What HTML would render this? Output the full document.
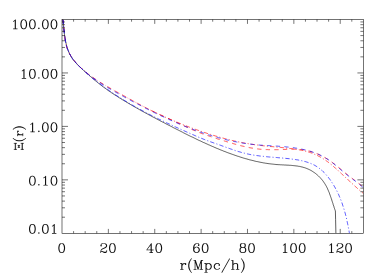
<!DOCTYPE html>
<html><head><meta charset="utf-8"><title>plot</title>
<style>html,body{margin:0;padding:0;background:#fff}svg{display:block}</style></head>
<body>
<svg width="382" height="273" viewBox="0 0 382 273">
<rect width="382" height="273" fill="#fff"/>
<defs><clipPath id="c"><rect x="62.0" y="19.5" width="301.4" height="213.8"/></clipPath><path id="g0" d="M9 -21.9 5.7 -20.8 5.3 -20.5 3.3 -17.5 2.2 -12.4 2.2 -8.6 3.1 -4 5.3 -0.5 5.7 -0.2 8.6 0.8 11.4 0.8 14.3 -0.2 14.7 -0.5 16.7 -3.5 17.8 -8.6 17.8 -12.4 16.9 -17 14.7 -20.5 14.3 -20.8 11.4 -21.8ZM9.2 -20.2 10.8 -20.2 12.4 -19.4 13.4 -18.4 14.3 -16.5 15.2 -11.9 15.2 -9.1 14.2 -4.2 13.4 -2.6 12.4 -1.6 10.8 -0.8 9.2 -0.8 7.6 -1.6 6.6 -2.6 5.7 -4.5 4.8 -9.1 4.8 -11.9 5.8 -16.8 6.6 -18.4 7.6 -19.4Z"/><path id="g1" d="M11.2 -21.8 10.4 -21.6 7.4 -18.6 5.7 -17.8 5.2 -17.2 5.2 -16.8 5.6 -16.3 6.3 -16.2 8.3 -17.2 9.1 -17.9 9.2 -17.8 9.2 -0.9 5.8 -0.8 5.2 -0.2 5.3 0.4 5.8 0.8 15.2 0.8 15.8 0.2 15.7 -0.4 15.2 -0.8 11.8 -0.9 11.8 -21.2Z"/><path id="g2" d="M4.7 -20.8 3.4 -19.6 2.2 -17.3 2.2 -15.8 2.4 -15.4 3.4 -14.4 3.8 -14.2 4.6 -14.4 5.6 -15.4 5.8 -15.8 5.6 -16.6 4.3 -17.8 4.6 -18.4 5.5 -19.3 8.2 -20.2 11.8 -20.2 13.4 -19.4 14.4 -18.4 15.2 -16.8 15.2 -15.2 14.3 -13.5 11.6 -11.7 5.7 -8.8 3.4 -6.6 2.2 -3.3 2.2 0.2 2.8 0.8 3.4 0.7 3.8 0.2 3.8 -1.6 4.4 -2.2 5.7 -2.2 10.8 0.8 15.2 0.8 15.6 0.6 16.6 -0.4 17.8 -2.6 17.8 -5.2 17.2 -5.8 16.6 -5.7 16.2 -5.2 16.2 -3.4 15.4 -2.6 13.8 -1.8 11.2 -1.8 6.3 -3.8 4.3 -3.8 4.2 -4.1 4.7 -5.5 6.6 -7.4 9.1 -8.6 13.3 -10.2 16.5 -12.3 17.8 -14.7 17.8 -17.3 16.8 -19.3 15.6 -20.6 12.4 -21.8 7.7 -21.8Z"/><path id="g3" d="M13.3 -21.8 12.7 -21.8 12.3 -21.5 1.2 -6.2 1.3 -5.6 1.8 -5.2 11.1 -5.2 11.2 -0.9 8.6 -0.7 8.2 -0.2 8.2 0.2 8.8 0.8 16.4 0.7 16.8 0.2 16.8 -0.2 16.4 -0.7 13.8 -0.9 13.8 -5.1 18.2 -5.2 18.8 -5.8 18.7 -6.4 18.2 -6.8 13.8 -6.9 13.8 -21.3ZM11.1 -17 11.2 -6.9 3.8 -6.8 3.7 -6.9Z"/><path id="g4" d="M13.3 -21.8 9.6 -21.8 6.4 -20.6 4.2 -18.3 3.2 -16.3 2.2 -12.4 2.2 -5.7 3.2 -2.7 5.7 -0.2 8.6 0.8 11.4 0.8 14.6 -0.4 16.8 -2.7 17.8 -5.7 17.8 -7.3 16.8 -10.3 14.3 -12.8 11.4 -13.8 9.7 -13.8 6.7 -12.8 4.9 -11.1 4.8 -11.2 4.8 -11.9 5.6 -15.2 6.6 -17.4 8.6 -19.4 10.2 -20.2 12.8 -20.2 14.2 -19.5 14.7 -18.8 13.4 -17.6 13.2 -17.2 13.4 -16.4 14.4 -15.4 15.2 -15.2 15.6 -15.4 16.6 -16.4 16.8 -16.8 16.8 -18.3 15.8 -20.3 15.3 -20.8ZM10.8 -12.2 12.4 -11.4 14.3 -9.5 15.1 -7.2 15.2 -6.2 14.3 -3.5 12.4 -1.6 10.8 -0.8 9.2 -0.8 7.6 -1.6 5.7 -3.5 4.9 -5.8 4.8 -6.8 5.7 -9.5 7.5 -11.3 9.8 -12.1Z"/><path id="g5" d="M8 -21.9 4.7 -20.8 4.2 -20.3 3.2 -18.3 3.2 -14.7 4.2 -12.7 4.7 -12.2 5.2 -12 4.4 -11.6 3.4 -10.6 2.2 -8.3 2.2 -3.7 3.4 -1.4 4.7 -0.2 7.6 0.8 12.4 0.8 15.6 -0.4 16.6 -1.4 17.8 -3.7 17.8 -8.3 16.6 -10.6 15.6 -11.6 14.8 -12 15.3 -12.2 15.8 -12.7 16.8 -14.7 16.8 -18.3 15.8 -20.3 15.3 -20.8 12.4 -21.8ZM8.2 -11.2 11.8 -11.2 13.4 -10.4 14.4 -9.4 15.2 -7.8 15.2 -4.2 14.4 -2.6 13.4 -1.6 11.8 -0.8 8.2 -0.8 6.6 -1.6 5.6 -2.6 4.8 -4.2 4.8 -7.8 5.6 -9.4 6.6 -10.4ZM6.5 -19.2 6.8 -19.5 8.2 -20.2 11.8 -20.2 13.2 -19.5 13.5 -19.2 14.2 -17.8 14.2 -15.2 13.5 -13.8 13.2 -13.5 11.8 -12.8 8.2 -12.8 6.8 -13.5 6.5 -13.8 5.8 -15.2 5.8 -17.8Z"/><path id="g7" d="M4.7 -2.8 3.4 -1.6 3.2 -0.8 3.4 -0.4 4.4 0.6 5.2 0.8 5.6 0.6 6.6 -0.4 6.8 -1.2 6.6 -1.6 5.3 -2.8Z"/><path id="g8" d="M1.8 -14.8 1.2 -14.2 1.2 -13.8 1.6 -13.3 4.2 -13.1 4.2 -0.9 1.8 -0.8 1.3 -0.4 1.2 0.2 1.8 0.8 9.2 0.8 9.8 0.2 9.8 -0.2 9.4 -0.7 6.8 -0.9 6.8 -7.8 7.6 -10.3 9.6 -12.4 11.2 -13.2 12.8 -13.2 12.9 -13.1 12.2 -12.2 12.2 -11.8 12.4 -11.4 13.4 -10.4 14.2 -10.2 14.6 -10.4 15.6 -11.4 15.8 -11.8 15.8 -13.2 15.6 -13.6 14.6 -14.6 14.2 -14.8 10.7 -14.8 8.4 -13.6 6.9 -12.1 6.8 -14.3 6.3 -14.8Z"/><path id="g9" d="M10.8 -25.8 10.4 -25.6 8.2 -23.4 6.3 -20.5 4.2 -16.3 3.2 -11.4 3.2 -6.6 4.2 -1.7 6.3 2.5 8.2 5.4 10.4 7.6 11.2 7.8 11.7 7.4 11.8 6.8 11.6 6.4 9.6 4.4 7.8 0.8 6.8 -2.1 5.8 -7.1 5.8 -10.9 6.8 -15.9 7.8 -18.8 9.6 -22.4 11.6 -24.4 11.8 -24.8 11.7 -25.4 11.2 -25.8Z"/><path id="g10" d="M1.6 -21.7 1.2 -21.2 1.2 -20.8 1.6 -20.3 4.2 -20.1 4.2 -0.9 1.8 -0.8 1.2 -0.2 1.3 0.4 1.8 0.8 8.2 0.8 8.8 0.2 8.7 -0.4 8.2 -0.8 5.8 -0.9 5.9 -15.6 11.2 0.3 11.7 0.8 12.3 0.8 12.8 0.3 18.1 -15.6 18.2 -0.9 15.8 -0.8 15.3 -0.4 15.2 0.2 15.8 0.8 23.4 0.7 23.8 0.2 23.8 -0.2 23.4 -0.7 20.8 -0.9 20.8 -20.1 23.2 -20.2 23.8 -20.8 23.7 -21.4 23.2 -21.8 19 -21.9 18.3 -21.5 12.5 -4.3 6.8 -21.3 6.3 -21.8 5 -21.9Z"/><path id="g11" d="M1.8 -14.8 1.2 -14.2 1.2 -13.8 1.6 -13.3 4.2 -13.1 4.2 6.1 1.8 6.2 1.3 6.6 1.2 7.2 1.8 7.8 9.2 7.8 9.8 7.2 9.8 6.8 9.4 6.3 6.8 6.1 6.8 -0.8 6.9 -0.9 7.7 -0.2 9.7 0.8 12.4 0.8 15.3 -0.2 17.8 -2.7 18.8 -5.7 18.8 -8.3 17.8 -11.3 15.3 -13.8 12.4 -14.8 9.7 -14.8 7.7 -13.8 6.9 -13.1 6.8 -14.3 6.3 -14.8ZM10.2 -13.2 11.8 -13.2 13.4 -12.4 15.3 -10.5 16.2 -7.8 16.2 -6.2 15.3 -3.5 13.4 -1.6 11.8 -0.8 10.2 -0.8 8.6 -1.6 6.8 -3.4 6.8 -10.6 8.6 -12.4Z"/><path id="g12" d="M8.6 -14.8 5.7 -13.8 3.4 -11.6 2.2 -8.3 2.2 -5.7 3.2 -2.7 5.4 -0.4 8.6 0.8 11.3 0.8 14.6 -0.4 16.6 -2.4 16.8 -2.8 16.7 -3.4 16.2 -3.8 15.8 -3.8 15.4 -3.6 13.5 -1.7 10.8 -0.8 9.2 -0.8 7.6 -1.6 5.7 -3.5 4.8 -6.2 4.8 -7.8 5.6 -10.3 7.6 -12.4 9.2 -13.2 11.8 -13.2 13.4 -12.4 14.3 -11.5 13.4 -10.6 13.2 -9.8 13.4 -9.4 14.4 -8.4 15.2 -8.2 15.6 -8.4 16.6 -9.4 16.8 -9.8 16.8 -11.2 16.6 -11.6 14.6 -13.6 12.3 -14.8Z"/><path id="g13" d="M20.4 -25.7 19.6 -25.7 18.9 -24.8 1.3 6.5 1.2 7.2 1.6 7.7 2.4 7.7 3.1 6.8 20.7 -24.5 20.8 -25.2Z"/><path id="g14" d="M1.6 -21.7 1.2 -21.2 1.2 -20.8 1.6 -20.3 4.2 -20.1 4.2 -0.9 1.8 -0.8 1.2 -0.2 1.3 0.4 1.8 0.8 9.2 0.8 9.7 0.4 9.8 -0.2 9.2 -0.8 6.8 -0.9 6.8 -10.6 8.7 -12.4 11.2 -13.2 12.8 -13.2 14.2 -12.5 14.5 -12.2 15.2 -10.8 15.2 -0.9 12.8 -0.8 12.2 -0.2 12.3 0.4 12.8 0.8 20.4 0.7 20.8 0.2 20.8 -0.2 20.4 -0.7 17.8 -0.9 17.8 -11.3 16.8 -13.3 16.3 -13.8 13.4 -14.8 10.7 -14.8 7.7 -13.8 6.9 -13.1 6.8 -21.3 6.3 -21.8Z"/><path id="g15" d="M2.8 -25.8 2.3 -25.4 2.2 -24.8 2.4 -24.4 4.4 -22.4 6.2 -18.8 7.2 -15.9 8.2 -10.9 8.2 -7.1 7.2 -2.1 6.2 0.8 4.4 4.4 2.4 6.4 2.2 6.8 2.3 7.4 2.8 7.8 3.2 7.8 3.6 7.6 5.8 5.4 7.7 2.5 9.8 -1.7 10.8 -6.6 10.8 -11.4 9.8 -16.3 7.7 -20.5 5.8 -23.4 3.6 -25.6Z"/><path id="xi" d="M-7 -20.2H7M-7 -19.4H7M-7 -22.6V-17M7 -22.6V-17M-2 -12.2H2M-2 -11.4H2M-2.2 -13.8V-9.8M2.2 -13.8V-9.8M-7 -4.3H7M-7 -3.5H7M-7 -6.7V-1.1M7 -6.7V-1.1" fill="none" stroke="#111" stroke-width="1.55" stroke-linecap="round"/></defs>
<g clip-path="url(#c)" fill="none" stroke-width="0.66">
<path d="M62.9 19.5 63.0 20.4 63.1 21.3 63.2 22.2 63.2 23.1 63.3 24.0 63.4 24.9 63.5 25.7 63.6 26.6 63.7 27.5 63.8 28.4 63.9 29.3 64.0 30.2 64.1 31.1 64.2 32.0 64.3 32.9 64.4 33.8 64.5 34.7 64.6 35.5 64.8 36.4 64.9 37.3 65.0 38.2 65.2 39.1 65.3 40.0 65.5 40.9 65.7 41.8 65.9 42.7 66.1 43.5 66.3 44.4 66.5 45.3 66.7 46.2 67.0 47.0 67.2 47.9 67.5 48.7 67.8 49.6 68.1 50.4 68.4 51.3 68.8 52.1 69.2 52.9 69.5 53.7 69.9 54.5 70.4 55.3 70.8 56.1 71.2 56.8 71.7 57.6 72.2 58.3 72.7 59.1 73.3 59.8 73.8 60.5 74.4 61.2 75.0 61.8 75.5 62.5 76.1 63.2 76.8 63.8 77.4 64.5 78.0 65.1 78.7 65.7 79.3 66.4 80.0 67.0 80.6 67.6 81.3 68.2 81.9 68.8 82.6 69.4 83.3 70.0 83.9 70.7 84.6 71.3 85.3 71.9 85.9 72.5 86.6 73.1 87.3 73.7 88.0 74.3 88.6 74.9 89.3 75.5 90.0 76.0 90.6 76.6 91.3 77.2 92.0 77.8 92.7 78.4 93.4 79.0 94.0 79.6 94.7 80.1 95.4 80.7 96.1 81.3 96.8 81.8 97.5 82.4 98.2 83.0 98.9 83.5 99.6 84.1 100.3 84.6 101.0 85.2 101.7 85.7 102.4 86.3 103.1 86.8 103.9 87.3 104.6 87.9 105.3 88.4 106.0 88.9 106.8 89.4 107.5 90.0 108.2 90.5 109.0 91.0 109.7 91.5 110.5 92.0 111.2 92.5 111.9 93.0 112.7 93.5 113.4 94.0 114.2 94.5 115.0 95.0 115.7 95.5 116.5 95.9 117.2 96.4 118.0 96.9 118.7 97.4 119.5 97.9 120.3 98.3 121.0 98.8 121.8 99.3 122.6 99.8 123.3 100.2 124.1 100.7 124.9 101.2 125.7 101.6 126.4 102.1 127.2 102.5 128.0 103.0 128.7 103.5 129.5 103.9 130.3 104.4 131.1 104.8 131.8 105.3 132.6 105.7 133.4 106.2 134.2 106.6 135.0 107.1 135.7 107.5 136.5 107.9 137.3 108.4 138.1 108.8 138.9 109.3 139.6 109.7 140.4 110.1 141.2 110.6 142.0 111.0 142.8 111.4 143.6 111.9 144.3 112.3 145.1 112.7 145.9 113.2 146.7 113.6 147.5 114.0 148.3 114.5 149.1 114.9 149.8 115.3 150.6 115.7 151.4 116.2 152.2 116.6 153.0 117.0 153.8 117.4 154.6 117.8 155.4 118.3 156.2 118.7 157.0 119.1 157.7 119.5 158.5 119.9 159.3 120.3 160.1 120.8 160.9 121.2 161.7 121.6 162.5 122.0 163.3 122.4 164.1 122.8 164.9 123.2 165.7 123.7 166.5 124.1 167.3 124.5 168.1 124.9 168.9 125.3 169.7 125.7 170.5 126.1 171.3 126.5 172.1 126.9 172.9 127.4 173.7 127.8 174.5 128.2 175.3 128.6 176.1 129.0 176.9 129.4 177.7 129.8 178.5 130.2 179.3 130.6 180.1 131.0 180.9 131.4 181.7 131.8 182.5 132.2 183.3 132.7 184.1 133.1 184.9 133.5 185.7 133.9 186.5 134.3 187.3 134.7 188.1 135.1 188.9 135.5 189.7 135.9 190.5 136.3 191.4 136.7 192.2 137.0 193.0 137.4 193.8 137.8 194.6 138.2 195.4 138.6 196.2 139.0 197.0 139.4 197.8 139.8 198.6 140.2 199.5 140.6 200.3 140.9 201.1 141.3 201.9 141.7 202.7 142.1 203.5 142.5 204.4 142.8 205.2 143.2 206.0 143.6 206.8 143.9 207.6 144.3 208.4 144.7 209.3 145.0 210.1 145.4 210.9 145.8 211.7 146.1 212.6 146.5 213.4 146.8 214.2 147.2 215.0 147.6 215.9 147.9 216.7 148.3 217.5 148.6 218.3 148.9 219.2 149.3 220.0 149.6 220.8 150.0 221.7 150.3 222.5 150.6 223.3 151.0 224.2 151.3 225.0 151.6 225.8 151.9 226.7 152.3 227.5 152.6 228.3 152.9 229.2 153.2 230.0 153.5 230.9 153.8 231.7 154.1 232.5 154.4 233.4 154.7 234.2 155.0 235.1 155.3 235.9 155.6 236.8 155.9 237.6 156.2 238.5 156.4 239.3 156.7 240.2 157.0 241.0 157.3 241.9 157.5 242.7 157.8 243.6 158.1 244.4 158.3 245.3 158.6 246.2 158.8 247.0 159.0 247.9 159.3 248.7 159.5 249.6 159.8 250.5 160.0 251.3 160.2 252.2 160.4 253.1 160.6 253.9 160.8 254.8 161.1 255.7 161.3 256.6 161.5 257.4 161.6 258.3 161.8 259.2 162.0 260.1 162.2 260.9 162.4 261.8 162.5 262.7 162.7 263.6 162.9 264.5 163.0 265.4 163.2 266.2 163.3 267.1 163.4 268.0 163.6 268.9 163.7 269.8 163.8 270.7 163.9 271.6 164.0 272.5 164.1 273.4 164.2 274.3 164.3 275.2 164.4 276.1 164.5 277.0 164.6 277.9 164.6 278.8 164.7 279.7 164.7 280.6 164.8 281.5 164.8 282.4 164.9 283.4 164.9 284.3 165.0 285.2 165.0 286.1 165.1 287.0 165.1 287.9 165.2 288.8 165.2 289.7 165.3 290.6 165.3 291.5 165.4 292.4 165.5 293.3 165.6 294.2 165.7 295.1 165.8 296.0 165.9 296.9 166.0 297.8 166.1 298.6 166.3 299.5 166.4 300.4 166.6 301.2 166.8 302.1 167.0 302.9 167.2 303.8 167.5 304.6 167.7 305.5 168.0 306.3 168.3 307.1 168.6 307.9 169.0 308.7 169.3 309.5 169.7 310.3 170.1 311.1 170.5 311.9 171.0 312.7 171.5 313.4 172.0 314.2 172.5 314.9 173.0 315.6 173.5 316.3 174.1 317.0 174.7 317.7 175.3 318.4 175.9 319.0 176.5 319.7 177.2 320.3 177.8 320.9 178.5 321.5 179.2 322.1 179.9 322.7 180.6 323.2 181.3 323.7 182.0 324.2 182.8 324.7 183.5 325.2 184.3 325.6 185.1 326.1 185.8 326.5 186.6 326.9 187.4 327.3 188.2 327.7 189.0 328.0 189.9 328.4 190.7 328.7 191.5 329.1 192.3 329.4 193.2 329.7 194.0 330.0 194.9 330.3 195.7 330.6 196.6 330.9 197.4 331.2 198.3 331.5 199.1 331.8 200.0 332.0 200.9 332.3 201.7 332.6 202.6 332.9 203.4 333.1 204.3 333.4 205.1 333.7 206.0 334.0 206.8 334.2 207.7 334.5 208.5 334.8 209.4 335.1 210.2 335.4 211.0 335.6 219.7 335.9 233.3" stroke="#000" stroke-width="0.64"/>
<path d="M62.8 19.6 63.0 20.5 63.1 21.3 63.2 22.2 63.3 23.1 63.4 24.0 63.5 24.9 63.6 25.8 63.7 26.7 63.8 27.7 63.9 28.6 64.0 29.5 64.1 30.4 64.2 31.4 64.3 32.3 64.3 33.2 64.4 34.2 64.6 35.1 64.7 36.0 64.8 37.0 64.9 37.9 65.0 38.9 65.2 39.8 65.3 40.7 65.5 41.6 65.7 42.6 65.9 43.5 66.1 44.4 66.3 45.3 66.6 46.2 66.8 47.1 67.1 47.9 67.4 48.8 67.8 49.7 68.1 50.5 68.5 51.3 68.9 52.2 69.3 53.0 69.7 53.8 70.1 54.6 70.6 55.4 71.0 56.2 71.5 56.9 72.0 57.7 72.5 58.4 73.1 59.2 73.6 59.9 74.2 60.6 74.7 61.3 75.3 62.0 75.9 62.7 76.5 63.4 77.1 64.1 77.8 64.8 78.4 65.5 79.1 66.1 79.7 66.8 80.4 67.4 81.1 68.0 81.8 68.7 82.4 69.3 83.1 69.9 83.9 70.5 84.6 71.1 85.3 71.7 86.0 72.3 86.7 72.9 87.5 73.5 88.2 74.0 88.9 74.6 89.7 75.1 90.4 75.7 91.2 76.2 91.9 76.8 92.7 77.3 93.5 77.8 94.2 78.4 95.0 78.9 95.8 79.4 96.5 79.9 97.3 80.4 98.1 80.9 98.9 81.4 99.6 81.9 100.4 82.4 101.2 82.9 102.0 83.4 102.8 83.8 103.6 84.3 104.4 84.8 105.2 85.3 106.0 85.7 106.8 86.2 107.6 86.7 108.4 87.1 109.2 87.6 110.0 88.1 110.8 88.5 111.6 89.0 112.4 89.4 113.2 89.9 114.0 90.3 114.8 90.8 115.6 91.2 116.4 91.7 117.2 92.1 118.0 92.6 118.8 93.0 119.6 93.5 120.4 93.9 121.2 94.4 122.0 94.8 122.9 95.3 123.7 95.7 124.5 96.2 125.3 96.6 126.1 97.1 126.9 97.5 127.7 98.0 128.5 98.4 129.3 98.9 130.1 99.3 130.9 99.8 131.8 100.2 132.6 100.7 133.4 101.1 134.2 101.6 135.0 102.0 135.8 102.5 136.6 102.9 137.4 103.3 138.3 103.8 139.1 104.2 139.9 104.7 140.7 105.1 141.5 105.5 142.3 105.9 143.2 106.4 144.0 106.8 144.8 107.2 145.6 107.7 146.4 108.1 147.3 108.5 148.1 108.9 148.9 109.3 149.7 109.7 150.5 110.1" stroke="#f00" stroke-dasharray="4.300 2.150 1.075 2.150" stroke-dashoffset="0.6" stroke-opacity="0.35"/>
<path d="M150.5 110.1 150.6 110.2 151.4 110.6 152.2 111.0 153.1 111.4 153.9 111.8 154.7 112.2 155.5 112.6 156.4 113.0 157.2 113.4 158.0 113.8 158.9 114.2 159.7 114.6 160.6 115.0 161.4 115.4 162.2 115.7 163.1 116.1 163.9 116.5 164.7 116.9 165.6 117.3 166.4 117.7 167.3 118.0 168.1 118.4 169.0 118.8 169.8 119.1 170.7 119.5 171.5 119.9 172.4 120.2 173.2 120.6 174.1 121.0 174.9 121.3 175.8 121.7 176.6 122.0 177.5 122.4 178.3 122.8 179.2 123.1 180.0 123.5 180.9 123.8 181.7 124.1 182.6 124.5 183.5 124.8 184.3 125.2 185.2 125.5 186.0 125.8 186.9 126.2 187.8 126.5 188.6 126.8 189.5 127.2 190.4 127.5 191.2 127.8 192.1 128.1 193.0 128.5 193.8 128.8 194.7 129.1 195.6 129.4 196.4 129.7 197.3 130.0 198.2 130.3 199.1 130.6 199.9 130.9 200.8 131.2 201.7 131.5 202.6 131.8 203.4 132.1 204.3 132.4 205.2 132.7 206.1 133.0 207.0 133.3 207.8 133.6 208.7 133.9 209.6 134.2 210.5 134.4 211.4 134.7 212.3 135.0 213.1 135.3 214.0 135.5 214.9 135.8 215.8 136.1 216.7 136.3 217.6 136.6 218.5 136.8 219.4 137.1 220.2 137.3 221.1 137.6 222.0 137.8 222.9 138.1 223.8 138.3 224.7 138.6 225.6 138.8 226.5 139.0 227.4 139.2 228.3 139.5 229.2 139.7 230.1 139.9 231.0 140.1 231.9 140.4 232.8 140.6 233.7 140.8 234.6 141.0 235.5 141.2 236.4 141.4 237.3 141.6 238.2 141.8 239.1 142.0 240.0 142.1 240.9 142.3 241.8 142.5 242.7 142.7 243.6 142.9 244.5 143.0 245.5 143.2 246.4 143.4 247.3 143.5 248.2 143.7 249.1 143.8 250.0 144.0 250.9 144.1 251.8 144.3 252.7 144.4 253.6 144.5 254.6 144.7 255.5 144.8 256.4 144.9 257.3 145.0 258.2 145.1 259.1 145.3 260.0 145.4 261.0 145.5 261.9 145.6 262.8 145.7 263.7 145.8 264.6 145.9 265.5 146.0 266.5 146.1 267.4 146.2 268.3 146.3 269.2 146.4 270.1 146.5 271.1 146.6 272.0 146.6 272.9 146.7 273.8 146.8 274.7 146.9 275.7 147.0 276.6 147.1 277.5 147.2 278.4 147.3 279.4 147.4 280.3 147.4 281.2 147.5 282.1 147.6 283.1 147.7 284.0 147.8 284.9 147.9 285.8 148.0 286.7 148.1 287.7 148.2 288.6 148.3 289.5 148.4 290.5 148.5 291.4 148.6 292.3 148.7 293.2 148.9 294.1 149.0 295.1 149.1 296.0 149.3 296.9 149.4 297.8 149.6 298.7 149.7 299.6 149.9 300.5 150.1 301.5 150.2 302.4 150.4 303.3 150.6 304.2 150.8 305.1 151.1 305.9 151.3 306.8 151.5 307.7 151.8 308.6 152.1 309.5 152.3 310.3 152.6 311.2 152.9 312.1 153.2 312.9 153.6 313.8 153.9 314.6 154.3 315.5 154.7 316.3 155.0 317.1 155.4 318.0 155.8 318.8 156.3 319.6 156.7 320.4 157.1 321.2 157.6 322.0 158.1 322.8 158.5 323.6 159.0 324.4 159.5 325.1 160.0 325.9 160.5 326.7 161.1 327.4 161.6 328.2 162.2 328.9 162.7 329.6 163.3 330.4 163.9 331.1 164.4 331.8 165.0 332.5 165.6 333.2 166.2 333.9 166.8 334.6 167.4 335.3 168.1 336.0 168.7 336.7 169.3 337.4 169.9 338.1 170.5 338.7 171.2 339.4 171.8 340.1 172.4 340.8 173.0 341.5 173.7 342.1 174.3 342.8 174.9 343.5 175.6 344.2 176.2 344.8 176.8 345.5 177.4 346.2 178.1 346.9 178.7 347.6 179.3 348.2 180.0 348.9 180.6 349.6 181.2 350.3 181.8 350.9 182.5 351.6 183.1 352.3 183.7 353.0 184.3 353.7 185.0 354.3 185.6 355.0 186.2 355.7 186.8 356.4 187.4 357.1 188.1 357.8 188.7 358.5 189.3 359.2 189.9 359.9 190.5 360.6 191.1 361.3 191.7 362.0 192.3 362.7 192.9 363.4 193.5" stroke="#f00" stroke-dasharray="4.300 2.150 1.075 2.150" stroke-dashoffset="0"/>
<path d="M62.8 19.6 63.0 20.4 63.1 21.3 63.2 22.2 63.3 23.1 63.4 24.0 63.5 24.9 63.6 25.8 63.7 26.7 63.8 27.7 63.9 28.6 64.0 29.5 64.1 30.4 64.2 31.3 64.3 32.2 64.4 33.1 64.5 34.1 64.6 35.0 64.7 35.9 64.8 36.8 64.9 37.8 65.1 38.7 65.2 39.6 65.4 40.5 65.5 41.5 65.7 42.4 65.9 43.3 66.1 44.2 66.3 45.1 66.5 46.0 66.8 46.9 67.0 47.8 67.3 48.7 67.6 49.5 68.0 50.4 68.3 51.2 68.7 52.0 69.1 52.8 69.5 53.6 70.0 54.4 70.4 55.2 70.9 56.0 71.4 56.8 71.9 57.5 72.4 58.3 72.9 59.0 73.5 59.7 74.0 60.4 74.6 61.2 75.2 61.9 75.8 62.6 76.4 63.2 77.0 63.9 77.6 64.6 78.3 65.2 78.9 65.9 79.6 66.5 80.2 67.2 80.9 67.8 81.6 68.4 82.3 69.1 83.0 69.7 83.7 70.3 84.4 70.9 85.1 71.5 85.8 72.1 86.5 72.6 87.2 73.2 87.9 73.8 88.6 74.3 89.4 74.9 90.1 75.4 90.9 76.0 91.6 76.5 92.3 77.1 93.1 77.6 93.8 78.1 94.6 78.7 95.4 79.2 96.1 79.7 96.9 80.2 97.6 80.7 98.4 81.2 99.2 81.7 100.0 82.2 100.7 82.7 101.5 83.2 102.3 83.6 103.1 84.1 103.9 84.6 104.7 85.1 105.5 85.5 106.3 86.0 107.1 86.5 107.9 86.9 108.7 87.4 109.5 87.9 110.3 88.3 111.1 88.8 111.9 89.2 112.7 89.7 113.5 90.1 114.3 90.6 115.1 91.0 115.9 91.5 116.7 91.9 117.5 92.4 118.3 92.8 119.1 93.2 119.9 93.7 120.7 94.1 121.6 94.6 122.4 95.0 123.2 95.4 124.0 95.9 124.8 96.3 125.6 96.8 126.4 97.2 127.2 97.7 128.0 98.1 128.8 98.5 129.6 99.0 130.4 99.4 131.2 99.9 132.0 100.3 132.8 100.8 133.6 101.2 134.4 101.6 135.2 102.1 136.0 102.5 136.9 103.0 137.7 103.4 138.5 103.8 139.3 104.3 140.1 104.7 140.9 105.1 141.7 105.6 142.5 106.0 143.3 106.4 144.1 106.9 144.9 107.3 145.7 107.7 146.6 108.1 147.4 108.5 148.2 109.0 149.0 109.4 149.8 109.8 150.7 110.2 151.5 110.6 152.3 111.0 153.1 111.4 154.0 111.8 154.8 112.2 155.6 112.6 156.5 113.0 157.3 113.4 158.1 113.8 159.0 114.1 159.8 114.5 160.6 114.9 161.5 115.3 162.3 115.7 163.1 116.1 164.0 116.5 164.8 116.9 165.6 117.2 166.5 117.6 167.3 118.0 168.2 118.4 169.0 118.8 169.8 119.2 170.7 119.6 171.5 119.9 172.3 120.3 173.2 120.7 174.0 121.1 174.8 121.5 175.7 121.9 176.5 122.3 177.3 122.7 178.2 123.1 179.0 123.5 179.8 123.9 180.6 124.3 181.5 124.7 182.3 125.1 183.1 125.5 184.0 125.8 184.8 126.2 185.6 126.6 186.5 127.0 187.3 127.4 188.1 127.8 189.0 128.2 189.8 128.5 190.6 128.9 191.5 129.3 192.3 129.7 193.2 130.0 194.0 130.4 194.8 130.7 195.7 131.1 196.5 131.5 197.4 131.8 198.2 132.1 199.1 132.5 199.9 132.8 200.8 133.1 201.7 133.5 202.5 133.8 203.4 134.1 204.2 134.4 205.1 134.7 206.0 135.0 206.8 135.3 207.7 135.6 208.6 135.9 209.4 136.2 210.3 136.5 211.2 136.8 212.1 137.1 212.9 137.4 213.8 137.7 214.7 138.0 215.6 138.2 216.4 138.5 217.3 138.8 218.2 139.1 219.1 139.3 220.0 139.6 220.8 139.9 221.7 140.2 222.6 140.4 223.5 140.7 224.4 141.0 225.3 141.2 226.1 141.5 227.0 141.8 227.9 142.0 228.8 142.3 229.7 142.6 230.6 142.8 231.4 143.1 232.3 143.3 233.2 143.6 234.1 143.9 235.0 144.1 235.9 144.4 236.8 144.6 237.6 144.8 238.5 145.1 239.4 145.3 240.3 145.6 241.2 145.8 242.1 146.0 243.0 146.2 243.9 146.4 244.8 146.6 245.7 146.8 246.6 147.0 247.5 147.2 248.3 147.4 249.2 147.6 250.1 147.8 251.0 147.9 251.9 148.1 252.9 148.2 253.8 148.4 254.7 148.5 255.6 148.6 256.5 148.8 257.4 148.9 258.3 149.0 259.2 149.1 260.1 149.2 261.0 149.3 262.0 149.3 262.9 149.4 263.8 149.5 264.7 149.5 265.6 149.6 266.5 149.6 267.5 149.6 268.4 149.7 269.3 149.7 270.2 149.7 271.1 149.7 272.1 149.7 273.0 149.8 273.9 149.7 274.8 149.7 275.8 149.7 276.7 149.7 277.6 149.7 278.5 149.7 279.5 149.6 280.4 149.6 281.3 149.6 282.2 149.5 283.2 149.5 284.1 149.4 285.0 149.4 285.9 149.4 286.8 149.3 287.8 149.3 288.7 149.3 289.6 149.2 290.5 149.2 291.5 149.2 292.4 149.2 293.3 149.2 294.2 149.2 295.1 149.2 296.0 149.2 297.0 149.3 297.9 149.3 298.8 149.4 299.7 149.5 300.6 149.5 301.5 149.6 302.4 149.8 303.3 149.9 304.2 150.0 305.1 150.2 306.0 150.4 306.9 150.6 307.8 150.8 308.7 151.0 309.6 151.2 310.5 151.4 311.4 151.7 312.2 152.0 313.1 152.3 314.0 152.5 314.9 152.9 315.7 153.2 316.6 153.5 317.4 153.9 318.3 154.2 319.1 154.6 319.9 155.0 320.8 155.4 321.6 155.8 322.4 156.2 323.2 156.6 324.0 157.1 324.8 157.5 325.6 158.0 326.4 158.5 327.2 158.9 328.0 159.4 328.8 159.9 329.5 160.5 330.3 161.0 331.0 161.5 331.8 162.1 332.5 162.6 333.2 163.2 334.0 163.7 334.7 164.3 335.4 164.8 336.1 165.4 336.9 166.0 337.6 166.6 338.3 167.2 339.0 167.8 339.7 168.3 340.4 168.9 341.1 169.5 341.8 170.1 342.5 170.7 343.2 171.3 344.0 171.9 344.7 172.5 345.4 173.1 346.1 173.6 346.8 174.2 347.5 174.8 348.2 175.4 349.0 175.9 349.7 176.5 350.4 177.1 351.1 177.6 351.9 178.2 352.6 178.7 353.3 179.3 354.1 179.8 354.8 180.4 355.5 181.0 356.3 181.5 357.0 182.1 357.7 182.6 358.4 183.2 359.1 183.8 359.9 184.3 360.6 184.9 361.3 185.5 362.0 186.1 362.7 186.7 363.4 187.3" stroke="#f00" stroke-dasharray="4.300 4.300" stroke-dashoffset="0.4"/>
<path d="M62.8 19.6 63.0 20.5 63.1 21.4 63.2 22.4 63.3 23.3 63.4 24.3 63.5 25.3 63.6 26.2 63.7 27.2 63.8 28.2 63.9 29.2 64.0 30.1 64.1 31.1 64.2 32.1 64.3 33.1 64.4 34.1 64.5 35.0 64.7 36.0 64.8 37.0 64.9 38.0 65.1 38.9 65.3 39.9 65.4 40.9 65.6 41.8 65.8 42.8 66.0 43.8 66.3 44.7 66.5 45.6 66.8 46.6 67.1 47.5 67.4 48.4 67.7 49.3 68.1 50.2 68.5 51.1 68.8 52.0 69.3 52.9 69.7 53.8 70.1 54.6 70.6 55.5 71.1 56.3 71.6 57.1 72.1 58.0 72.6 58.8 73.2 59.6 73.8 60.3 74.4 61.1 75.0 61.9 75.6 62.6 76.3 63.3 76.9 64.1 77.6 64.8 78.3 65.5 79.0 66.2 79.7 66.8 80.4 67.5 81.1 68.2 81.8 68.8 82.5 69.5 83.3 70.2 84.0 70.8 84.7 71.5 85.5 72.1 86.2 72.8 86.9 73.4 87.7 74.0 88.4 74.7 89.2 75.3 89.9 75.9 90.7 76.6 91.4 77.2 92.2 77.8 92.9 78.4 93.7 79.0 94.5 79.6 95.2 80.2 96.0 80.8 96.8 81.4 97.5 82.0 98.3 82.6 99.1 83.2 99.9 83.8 100.7 84.4 101.4 85.0 102.2 85.6 103.0 86.1 103.8 86.7 104.6 87.3 105.4 87.9 106.2 88.4 107.0 89.0 107.8 89.6 108.6 90.1 109.4 90.7 110.2 91.2 111.0 91.8 111.8 92.3 112.6 92.9 113.4 93.4 114.2 93.9 115.0 94.5 115.8 95.0 116.7 95.6 117.5 96.1 118.3 96.6 119.1 97.1 120.0 97.7 120.8 98.2 121.6 98.7 122.4 99.2 123.3 99.7 124.1 100.2 124.9 100.7 125.8 101.2 126.6 101.7 127.4 102.2 128.3 102.7 129.1 103.2 130.0 103.7 130.8 104.2 131.7 104.7 132.5 105.2 133.3 105.7 134.2 106.2 135.0 106.6 135.9 107.1 136.7 107.6 137.6 108.1 138.5 108.5 139.3 109.0 140.2 109.5 141.0 109.9 141.9 110.4 142.7 110.9 143.6 111.3 144.5 111.8 145.3 112.2 146.2 112.7 147.1 113.1 147.9 113.6 148.8 114.0 149.7 114.5 150.5 114.9 151.4 115.4 152.3 115.8 153.1 116.3 154.0 116.7 154.9 117.1 155.8 117.6 156.6 118.0 157.5 118.4 158.4 118.9 159.3 119.3 160.2 119.7 161.0 120.1 161.9 120.6 162.8 121.0 163.7 121.4 164.6 121.8 165.4 122.2 166.3 122.7 167.2 123.1 168.1 123.5 169.0 123.9 169.9 124.3 170.7 124.7 171.6 125.1 172.5 125.6 173.4 126.0 174.3 126.4 175.2 126.8 176.1 127.2 177.0 127.6 177.9 128.0 178.7 128.4 179.6 128.8 180.5 129.2 181.4 129.6 182.3 130.0 183.2 130.4 184.1 130.8 185.0 131.2 185.9 131.6 186.8 132.0 187.7 132.4 188.6 132.8 189.5 133.2 190.4 133.6 191.2 134.0 192.1 134.3 193.0 134.7 193.9 135.1 194.8 135.5 195.7 135.9 196.6 136.3 197.5 136.7 198.4 137.1 199.3 137.4 200.2 137.8 201.1 138.2 202.0 138.5 202.9 138.9 203.8 139.3 204.7 139.6 205.6 140.0 206.5 140.3 207.5 140.7 208.4 141.0 209.3 141.3 210.2 141.7 211.1 142.0 212.0 142.3 212.9 142.6 213.9 143.0 214.8 143.3 215.7 143.6 216.6 143.9 217.5 144.2 218.4 144.6 219.4 144.9 220.3 145.2 221.2 145.5 222.1 145.9 223.0 146.2 224.0 146.5 224.9 146.9 225.8 147.2 226.7 147.5 227.7 147.9 228.6 148.2 229.5 148.5 230.5 148.9 231.4 149.2 232.3 149.5 233.2 149.8 234.2 150.2 235.1 150.5 236.0 150.8 237.0 151.1 237.9 151.4 238.8 151.7 239.8 151.9 240.7 152.2 241.7 152.5 242.6 152.7 243.5 153.0 244.5 153.2 245.4 153.5 246.4 153.7 247.3 153.9 248.3 154.1 249.2 154.3 250.2 154.5 251.1 154.7 252.1 154.8 253.1 155.0 254.0 155.2 255.0 155.3 255.9 155.4 256.9 155.6 257.9 155.7 258.8 155.8 259.8 156.0 260.7 156.1 261.7 156.2 262.7 156.3 263.6 156.4 264.6 156.5 265.6 156.6 266.6 156.7 267.5 156.8 268.5 156.9 269.5 157.0 270.4 157.0 271.4 157.1 272.4 157.2 273.4 157.3 274.3 157.4 275.3 157.4 276.3 157.5 277.3 157.6 278.2 157.7 279.2 157.8 280.2 157.8 281.2 157.9 282.1 158.0 283.1 158.1 284.1 158.2 285.1 158.3 286.0 158.4 287.0 158.5 288.0 158.6 289.0 158.7 290.0 158.8 290.9 158.9 291.9 159.1 292.9 159.2 293.9 159.3 294.8 159.5 295.8 159.6 296.8 159.8 297.8 159.9 298.7 160.1 299.7 160.3 300.6 160.5 301.6 160.7 302.6 160.9 303.5 161.1 304.4 161.4 305.4 161.6 306.3 161.9 307.2 162.2 308.1 162.5 309.1 162.8 310.0 163.2 310.8 163.5 311.7 163.9 312.6 164.3 313.5 164.7 314.3 165.1 315.2 165.6 316.0 166.1 316.8 166.6 317.6 167.1 318.4 167.6 319.2 168.2 319.9 168.8 320.7 169.4 321.4 170.0 322.2 170.7 322.9 171.4 323.6 172.0 324.3 172.7 325.0 173.5 325.6 174.2 326.3 174.9 326.9 175.7 327.6 176.4 328.2 177.2 328.8 178.0 329.4 178.8 330.0 179.6 330.6 180.4 331.1 181.2 331.7 182.1 332.2 182.9 332.8 183.7 333.3 184.6 333.8 185.4 334.3 186.3 334.8 187.1 335.3 188.0 335.7 188.8 336.2 189.7 336.7 190.6 337.1 191.4 337.5 192.3 337.9 193.2 338.4 194.1 338.8 194.9 339.1 195.8 339.5 196.7 339.9 197.6 340.3 198.5 340.6 199.4 341.0 200.3 341.3 201.2 341.7 202.1 342.0 203.0 342.3 203.9 342.6 204.9 342.9 205.8 343.2 206.7 343.5 207.6 343.8 208.5 344.1 209.5 344.4 210.4 344.6 211.3 344.9 212.3 345.2 213.2 345.4 214.2 345.7 215.1 345.9 216.0 346.1 217.0 346.4 217.9 346.6 218.9 346.8 219.8 347.0 220.8 347.2 221.8 347.4 222.7 347.6 223.7 347.8 224.6 348.0 225.6 348.2 226.6 348.4 227.5 348.6 228.5 348.8 229.5 349.0 230.4 349.1 231.4 349.3 232.4 349.5 233.3" stroke="#00f" stroke-dasharray="4.300 2.150 1.075 2.150" stroke-dashoffset="0"/>
<path d="M62.9 19.5 63.0 20.4 63.1 21.3 63.2 22.2 63.3 23.2 63.4 24.1 63.5 25.0 63.5 25.9 63.6 26.8 63.7 27.7 63.8 28.6 63.9 29.5 64.1 30.4 64.2 31.3 64.3 32.2 64.4 33.1 64.5 34.1 64.6 35.0 64.7 35.9 64.9 36.8 65.0 37.7 65.1 38.6 65.3 39.6 65.4 40.5 65.6 41.4 65.7 42.3 65.9 43.3 66.1 44.2 66.3 45.1 66.5 46.0 66.8 46.9 67.0 47.8 67.3 48.6 67.6 49.5 68.0 50.3 68.3 51.2 68.7 52.0 69.1 52.8 69.5 53.6 69.9 54.4 70.4 55.2 70.8 56.0 71.3 56.7 71.8 57.5 72.3 58.2 72.9 59.0 73.4 59.7 74.0 60.4 74.6 61.1 75.1 61.8 75.7 62.5 76.3 63.2 77.0 63.9 77.6 64.6 78.2 65.3 78.9 65.9 79.5 66.6 80.2 67.2 80.8 67.8 81.5 68.5 82.2 69.1 82.9 69.7 83.6 70.3 84.3 70.9 85.0 71.5 85.7 72.1 86.4 72.7 87.1 73.3 87.8 73.9 88.5 74.5 89.2 75.0 89.9 75.6 90.7 76.2 91.4 76.7 92.1 77.3 92.9 77.8 93.6 78.4 94.4 78.9 95.1 79.4 95.9 79.9 96.6 80.5 97.4 81.0 98.1 81.5 98.9 82.0 99.6 82.5 100.4 83.0 101.2 83.5 101.9 84.0 102.7 84.5 103.5 85.0 104.3 85.5 105.1 86.0 105.8 86.5 106.6 86.9 107.4 87.4 108.2 87.9 109.0 88.3 109.8 88.8 110.6 89.3 111.4 89.7 112.2 90.2 113.0 90.7 113.8 91.1 114.6 91.6 115.4 92.0 116.2 92.5 117.0 92.9 117.8 93.4 118.6 93.8 119.4 94.3 120.2 94.7 121.0 95.1 121.8 95.6 122.6 96.0 123.4 96.5 124.2 96.9 125.0 97.3 125.8 97.8 126.7 98.2 127.5 98.7 128.3 99.1 129.1 99.5 129.9 100.0 130.7 100.4 131.5 100.8 132.3 101.3 133.1 101.7 134.0 102.1 134.8 102.5 135.6 103.0 136.4 103.4 137.2 103.8 138.0 104.3 138.8 104.7 139.7 105.1 140.5 105.5 141.3 106.0 142.1 106.4 142.9 106.8 143.7 107.2 144.5 107.6 145.4 108.1 146.2 108.5 147.0 108.9 147.8 109.3 148.6 109.7 149.5 110.1 150.3 110.5 151.1 110.9 151.9 111.4 152.8 111.8 153.6 112.2 154.4 112.6 155.2 113.0 156.0 113.4 156.9 113.8 157.7 114.2 158.5 114.6 159.4 115.0 160.2 115.4 161.0 115.8 161.8 116.2 162.7 116.5 163.5 116.9 164.3 117.3 165.2 117.7 166.0 118.1 166.8 118.5 167.7 118.9 168.5 119.2 169.3 119.6 170.2 120.0 171.0 120.4 171.8 120.7 172.7 121.1 173.5 121.5 174.4 121.9 175.2 122.2 176.1 122.6 176.9 122.9 177.7 123.3 178.6 123.7 179.4 124.0 180.3 124.4 181.1 124.7 182.0 125.1 182.8 125.4 183.7 125.8 184.5 126.1 185.4 126.5 186.2 126.8 187.1 127.1 187.9 127.5 188.8 127.8 189.6 128.1 190.5 128.5 191.4 128.8 192.2 129.1 193.1 129.4 193.9 129.8 194.8 130.1 195.7 130.4 196.5 130.7 197.4 131.0 198.3 131.3 199.1 131.6 200.0 131.9 200.9 132.2 201.7 132.5 202.6 132.8 203.5 133.1 204.3 133.4 205.2 133.7 206.1 134.0 207.0 134.3 207.8 134.6 208.7 134.8 209.6 135.1 210.5 135.4 211.3 135.6 212.2 135.9 213.1 136.2 214.0 136.4 214.9 136.7 215.7 136.9 216.6 137.2 217.5 137.4 218.4 137.7 219.3 137.9 220.2 138.2 221.1 138.4 222.0 138.6 222.8 138.9 223.7 139.1 224.6 139.3 225.5 139.5 226.4 139.8 227.3 140.0 228.2 140.2 229.1 140.4 230.0 140.6 230.9 140.8 231.8 141.0 232.7 141.2 233.6 141.4 234.5 141.6 235.4 141.7 236.3 141.9 237.2 142.1 238.1 142.3 239.0 142.4 239.9 142.6 240.8 142.8 241.7 142.9 242.7 143.1 243.6 143.2 244.5 143.4 245.4 143.5 246.3 143.6 247.2 143.8 248.1 143.9 249.0 144.0 249.9 144.1 250.8 144.2 251.8 144.3 252.7 144.4 253.6 144.5 254.5 144.6 255.4 144.7 256.3 144.8 257.2 144.9 258.1 145.0 259.0 145.0 259.9 145.1 260.8 145.2 261.8 145.2 262.7 145.3 263.6 145.3 264.5 145.4 265.4 145.4 266.3 145.5 267.2 145.6 268.1 145.6 269.1 145.7 270.0 145.7 270.9 145.8 271.8 145.8 272.7 145.9 273.6 145.9 274.5 146.0 275.5 146.0 276.4 146.1 277.3 146.1 278.2 146.2 279.1 146.3 280.1 146.3 281.0 146.4 281.9 146.5 282.8 146.5 283.7 146.6 284.7 146.7 285.6 146.8 286.5 146.9 287.4 147.0 288.4 147.1 289.3 147.2 290.2 147.3 291.1 147.4 292.0 147.5 293.0 147.6 293.9 147.8 294.8 147.9 295.7 148.1 296.6 148.2 297.5 148.4 298.4 148.5 299.3 148.7 300.2 148.9 301.1 149.0 302.0 149.2 302.9 149.4 303.8 149.6 304.7 149.8 305.6 150.0 306.5 150.3 307.4 150.5 308.3 150.7 309.1 151.0 310.0 151.3 310.9 151.5 311.8 151.8 312.6 152.1 313.5 152.4 314.3 152.7 315.2 153.0 316.0 153.4 316.9 153.7 317.7 154.0 318.5 154.4 319.4 154.8 320.2 155.2 321.0 155.5 321.8 156.0 322.6 156.4 323.4 156.8 324.2 157.2 325.0 157.7 325.8 158.2 326.6 158.6 327.3 159.1 328.1 159.6 328.9 160.1 329.6 160.7 330.4 161.2 331.1 161.8 331.9 162.3 332.6 162.9 333.3 163.4 334.1 164.0 334.8 164.6 335.5 165.2 336.2 165.8 337.0 166.4 337.7 167.0 338.4 167.6 339.1 168.2 339.8 168.8 340.5 169.4 341.2 170.0 341.9 170.6 342.7 171.2 343.4 171.8 344.1 172.4 344.8 173.0 345.5 173.6 346.2 174.2 346.9 174.7 347.6 175.3 348.4 175.9 349.1 176.4 349.8 177.0 350.5 177.5 351.2 178.1 352.0 178.6 352.7 179.2 353.4 179.7 354.1 180.2 354.9 180.8 355.6 181.3 356.3 181.9 357.0 182.4 357.8 183.0 358.5 183.6 359.2 184.1 359.9 184.7 360.6 185.3 361.3 185.9 362.0 186.6 362.7 187.2 363.4 187.8" stroke="#00f" stroke-dasharray="4.300 4.300" stroke-dashoffset="-0.25"/>
</g>
<g stroke="#000" stroke-width="0.55" fill="none">
<rect x="62.0" y="19.5" width="301.4" height="213.8"/>
<path d="M73.59 233.3v-2.2M73.59 19.5v2.2M85.18 233.3v-2.2M85.18 19.5v2.2M96.78 233.3v-2.2M96.78 19.5v2.2M108.37 233.3v-4.4M108.37 19.5v4.4M119.96 233.3v-2.2M119.96 19.5v2.2M131.55 233.3v-2.2M131.55 19.5v2.2M143.15 233.3v-2.2M143.15 19.5v2.2M154.74 233.3v-4.4M154.74 19.5v4.4M166.33 233.3v-2.2M166.33 19.5v2.2M177.92 233.3v-2.2M177.92 19.5v2.2M189.52 233.3v-2.2M189.52 19.5v2.2M201.11 233.3v-4.4M201.11 19.5v4.4M212.70 233.3v-2.2M212.70 19.5v2.2M224.29 233.3v-2.2M224.29 19.5v2.2M235.88 233.3v-2.2M235.88 19.5v2.2M247.48 233.3v-4.4M247.48 19.5v4.4M259.07 233.3v-2.2M259.07 19.5v2.2M270.66 233.3v-2.2M270.66 19.5v2.2M282.25 233.3v-2.2M282.25 19.5v2.2M293.85 233.3v-4.4M293.85 19.5v4.4M305.44 233.3v-2.2M305.44 19.5v2.2M317.03 233.3v-2.2M317.03 19.5v2.2M328.62 233.3v-2.2M328.62 19.5v2.2M340.22 233.3v-4.4M340.22 19.5v4.4M351.81 233.3v-2.2M351.81 19.5v2.2M62.0 217.21h3.0M363.4 217.21h-3.0M62.0 207.80h3.0M363.4 207.80h-3.0M62.0 201.12h3.0M363.4 201.12h-3.0M62.0 195.94h3.0M363.4 195.94h-3.0M62.0 191.71h3.0M363.4 191.71h-3.0M62.0 188.13h3.0M363.4 188.13h-3.0M62.0 185.03h3.0M363.4 185.03h-3.0M62.0 182.30h3.0M363.4 182.30h-3.0M62.0 179.85h6.0M363.4 179.85h-6.0M62.0 163.76h3.0M363.4 163.76h-3.0M62.0 154.35h3.0M363.4 154.35h-3.0M62.0 147.67h3.0M363.4 147.67h-3.0M62.0 142.49h3.0M363.4 142.49h-3.0M62.0 138.26h3.0M363.4 138.26h-3.0M62.0 134.68h3.0M363.4 134.68h-3.0M62.0 131.58h3.0M363.4 131.58h-3.0M62.0 128.85h3.0M363.4 128.85h-3.0M62.0 126.40h6.0M363.4 126.40h-6.0M62.0 110.31h3.0M363.4 110.31h-3.0M62.0 100.90h3.0M363.4 100.90h-3.0M62.0 94.22h3.0M363.4 94.22h-3.0M62.0 89.04h3.0M363.4 89.04h-3.0M62.0 84.81h3.0M363.4 84.81h-3.0M62.0 81.23h3.0M363.4 81.23h-3.0M62.0 78.13h3.0M363.4 78.13h-3.0M62.0 75.40h3.0M363.4 75.40h-3.0M62.0 72.95h6.0M363.4 72.95h-6.0M62.0 56.86h3.0M363.4 56.86h-3.0M62.0 47.45h3.0M363.4 47.45h-3.0M62.0 40.77h3.0M363.4 40.77h-3.0M62.0 35.59h3.0M363.4 35.59h-3.0M62.0 31.36h3.0M363.4 31.36h-3.0M62.0 27.78h3.0M363.4 27.78h-3.0M62.0 24.68h3.0M363.4 24.68h-3.0M62.0 21.95h3.0M363.4 21.95h-3.0"/>
</g>
<g fill="#111">
<g transform="translate(61.70 252.60) scale(0.432)"><use href="#g0" x="-10"/></g>
<g transform="translate(108.07 252.60) scale(0.432)"><use href="#g2" x="-20"/><use href="#g0" x="0"/></g>
<g transform="translate(154.44 252.60) scale(0.432)"><use href="#g3" x="-20"/><use href="#g0" x="0"/></g>
<g transform="translate(200.81 252.60) scale(0.432)"><use href="#g4" x="-20"/><use href="#g0" x="0"/></g>
<g transform="translate(247.18 252.60) scale(0.432)"><use href="#g5" x="-20"/><use href="#g0" x="0"/></g>
<g transform="translate(293.55 252.60) scale(0.432)"><use href="#g1" x="-30"/><use href="#g0" x="-10"/><use href="#g0" x="10"/></g>
<g transform="translate(339.92 252.60) scale(0.432)"><use href="#g1" x="-30"/><use href="#g2" x="-10"/><use href="#g0" x="10"/></g>
<g transform="translate(58.30 28.80) scale(0.432)"><use href="#g1" x="-110"/><use href="#g0" x="-90"/><use href="#g0" x="-70"/><use href="#g7" x="-50"/><use href="#g0" x="-40"/><use href="#g0" x="-20"/></g>
<g transform="translate(58.30 78.35) scale(0.432)"><use href="#g1" x="-90"/><use href="#g0" x="-70"/><use href="#g7" x="-50"/><use href="#g0" x="-40"/><use href="#g0" x="-20"/></g>
<g transform="translate(58.30 131.80) scale(0.432)"><use href="#g1" x="-70"/><use href="#g7" x="-50"/><use href="#g0" x="-40"/><use href="#g0" x="-20"/></g>
<g transform="translate(58.30 185.25) scale(0.432)"><use href="#g0" x="-70"/><use href="#g7" x="-50"/><use href="#g1" x="-40"/><use href="#g0" x="-20"/></g>
<g transform="translate(58.30 233.45) scale(0.432)"><use href="#g0" x="-70"/><use href="#g7" x="-50"/><use href="#g0" x="-40"/><use href="#g1" x="-20"/></g>
<g transform="translate(212.75 269.50) scale(0.432)"><use href="#g8" x="-77"/><use href="#g9" x="-60"/><use href="#g10" x="-46"/><use href="#g11" x="-21"/><use href="#g12" x="0"/><use href="#g13" x="19"/><use href="#g14" x="41"/><use href="#g15" x="63"/></g>
<g transform="translate(22.90 142.55) rotate(-90) scale(0.393)"><use href="#g9" x="0"/></g>
<g transform="translate(22.90 136.80) rotate(-90) scale(0.393)"><use href="#g8" x="0"/></g>
<g transform="translate(22.90 130.60) rotate(-90) scale(0.393)"><use href="#g15" x="0"/></g>
<use href="#xi" transform="translate(23.95 146.4) rotate(-90) scale(0.432)"/>
</g>
</svg>
</body></html>
